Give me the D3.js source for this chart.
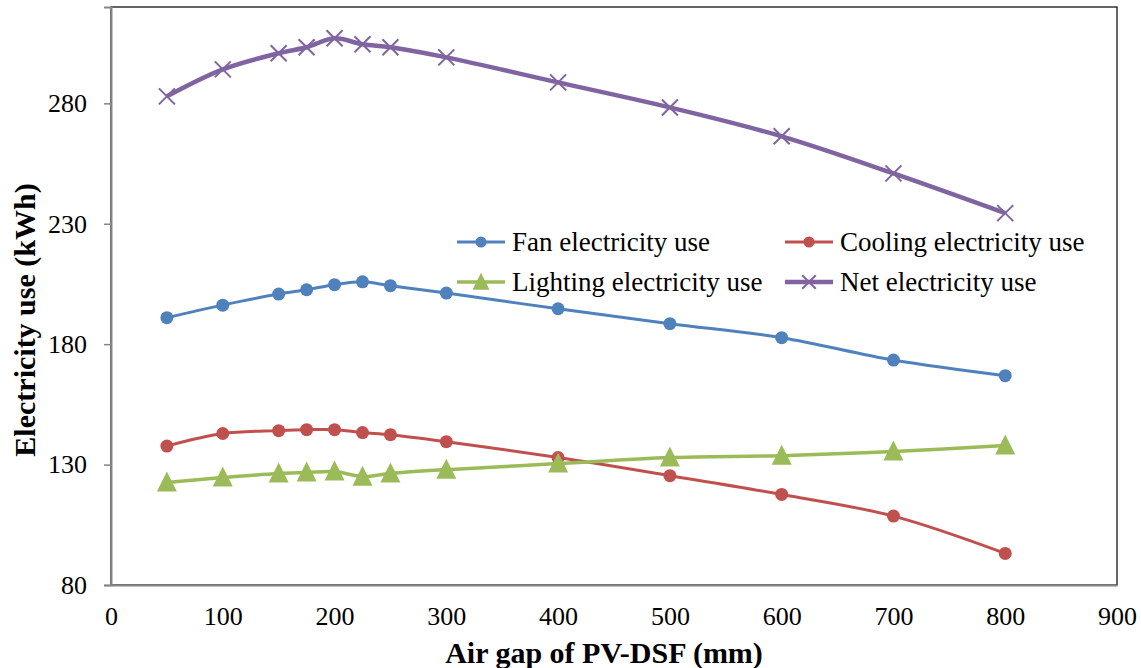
<!DOCTYPE html>
<html>
<head>
<meta charset="utf-8">
<style>
  body { margin: 0; background: #fff; }
  svg text { font-family: "Liberation Serif", "Times New Roman", "DejaVu Serif", serif; }
</style>
</head>
<body>
<script src="https://cdn.jsdelivr.net/npm/d3@7"></script>
<script>
// air gap (mm)
var gaps = [50, 100, 150, 175, 200, 225, 250, 300, 400, 500, 600, 700, 800];

var fanUse     = [191.0, 196.2, 200.8, 202.6, 204.7, 205.9, 204.3, 201.2, 194.7, 188.5, 182.7, 173.4, 166.9];
var coolingUse = [137.7, 142.9, 144.1, 144.5, 144.5, 143.3, 142.4, 139.5, 132.9, 125.4, 117.6, 108.6, 93.1];
var lightingUse= [122.6, 124.6, 126.3, 126.7, 127.1, 125.0, 126.3, 127.9, 130.4, 132.9, 133.7, 135.4, 137.9];
var netUse     = [282.9, 294.1, 300.8, 303.3, 307.0, 304.5, 303.3, 299.1, 288.7, 278.3, 266.3, 250.9, 234.4];

var xTicks = [0, 100, 200, 300, 400, 500, 600, 700, 800, 900];
var yTicks = [80, 130, 180, 230, 280];

var series = [
  { name: "Fan electricity use", values: fanUse, color: "#4f81bd", marker: "circle", width: 3 },
  { name: "Cooling electricity use", values: coolingUse, color: "#c0504d", marker: "circle", width: 3 },
  { name: "Lighting electricity use", values: lightingUse, color: "#9bbb59", marker: "triangle", width: 3.5 },
  { name: "Net electricity use", values: netUse, color: "#8064a2", marker: "cross", width: 4.5 }
];

var serif = "'Liberation Serif', 'Times New Roman', 'DejaVu Serif', serif";
var width = 1141, height = 668;
var m = { left: 111, right: 24, top: 7, bottom: 83 };

var svg = d3.select("body").append("svg")
    .attr("width", width)
    .attr("height", height)
    .style("font-family", serif);

var x = d3.scaleLinear().domain([0, 900]).range([m.left, width - m.right]);
var y = d3.scaleLinear().domain([80, 320]).range([height - m.bottom, m.top]);

// plot frame
svg.append("rect")
    .attr("x", x(0)).attr("y", y(320))
    .attr("width", x(900) - x(0)).attr("height", y(80) - y(320))
    .attr("fill", "none").attr("stroke", "#000").attr("stroke-width", 1.2);

var yAxis = svg.append("g")
    .attr("transform", "translate(" + x(0) + ",0)")
    .call(d3.axisLeft(y).tickValues(yTicks).tickSize(7).tickPadding(17).tickFormat(d3.format("d")));
yAxis.attr("font-family", null);
yAxis.select(".domain").attr("stroke", "#868686").attr("stroke-width", 2);
yAxis.selectAll(".tick line").attr("stroke", "#868686").attr("stroke-width", 1.5);
yAxis.selectAll("text").attr("font-size", 26).attr("fill", "#000").style("font-family", serif);

var xAxis = svg.append("g")
    .attr("transform", "translate(0," + y(80) + ")")
    .call(d3.axisBottom(x).tickValues(xTicks).tickSize(0).tickPadding(22).tickFormat(d3.format("d")));
xAxis.attr("font-family", null);
xAxis.select(".domain").attr("stroke", "#868686").attr("stroke-width", 2);
xAxis.selectAll("text").attr("font-size", 26).attr("fill", "#000").style("font-family", serif);

// axis titles
svg.append("text")
    .attr("x", 604).attr("y", 663)
    .attr("text-anchor", "middle")
    .attr("font-size", 30).attr("font-weight", "bold")
    .text("Air gap of PV-DSF (mm)");

svg.append("text")
    .attr("transform", "translate(35,320) rotate(-90)")
    .attr("text-anchor", "middle")
    .attr("font-size", 30).attr("font-weight", "bold")
    .text("Electricity use (kWh)");

var line = d3.line()
    .x(function (d) { return x(d[0]); })
    .y(function (d) { return y(d[1]); })
    .curve(d3.curveCatmullRom.alpha(0.5));

function drawMarker(g, type, color, cx, cy, scale) {
  scale = scale || 1;
  if (type === "circle") {
    g.append("circle").attr("cx", cx).attr("cy", cy).attr("r", 6.5 * scale).attr("fill", color);
  } else if (type === "triangle") {
    var s = 10 * scale;
    g.append("path")
        .attr("d", "M" + cx + "," + (cy - s * 1.1) + "L" + (cx + s) + "," + (cy + s * 0.9) + "L" + (cx - s) + "," + (cy + s * 0.9) + "Z")
        .attr("fill", color);
  } else {
    var k = 8 * scale;
    g.append("path")
        .attr("d", "M" + (cx - k) + "," + (cy - k) + "L" + (cx + k) + "," + (cy + k) +
                   "M" + (cx - k) + "," + (cy + k) + "L" + (cx + k) + "," + (cy - k))
        .attr("stroke", color).attr("stroke-width", 2).attr("fill", "none");
  }
}

series.forEach(function (s) {
  var pts = gaps.map(function (g, i) { return [g, s.values[i]]; });
  var g = svg.append("g");
  g.append("path")
      .datum(pts)
      .attr("d", line)
      .attr("fill", "none")
      .attr("stroke", s.color)
      .attr("stroke-width", s.width)
      .attr("stroke-linejoin", "round");
  pts.forEach(function (p) {
    drawMarker(g, s.marker, s.color, x(p[0]), y(p[1]));
  });
});

// legend
var legendPos = [[457, 242], [785, 242], [457, 282], [785, 282]];
series.forEach(function (s, i) {
  var lx = legendPos[i][0], ly = legendPos[i][1];
  var g = svg.append("g");
  g.append("line")
      .attr("x1", lx).attr("x2", lx + 48)
      .attr("y1", ly).attr("y2", ly)
      .attr("stroke", s.color).attr("stroke-width", s.width);
  drawMarker(g, s.marker, s.color, lx + 24, ly, 0.85);
  g.append("text")
      .attr("x", lx + 55).attr("y", ly + 9)
      .attr("font-size", 27)
      .text(s.name);
});
</script>
</body>
</html>
